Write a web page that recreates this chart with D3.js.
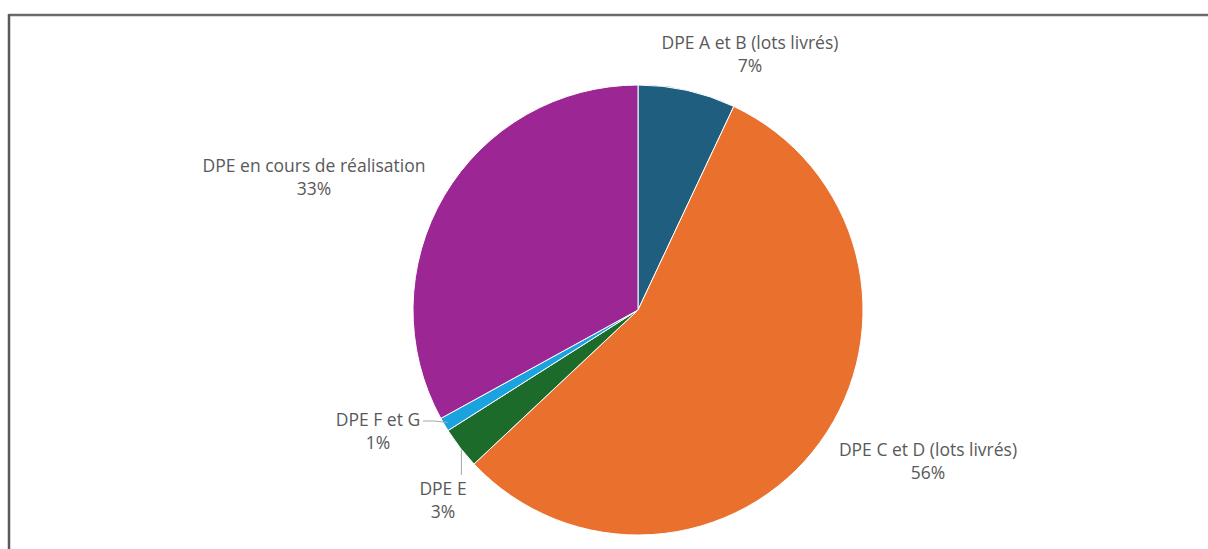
<!DOCTYPE html>
<html>
<head>
<meta charset="utf-8">
<script src="https://cdn.jsdelivr.net/npm/d3@7"></script>
<style>
  html, body { margin: 0; padding: 0; background: #fff; }
  svg { display: block; }
  .lbl { font-family: "Open Sans", Lato, sans-serif; font-size: 15px; fill: #595959; }
</style>
</head>
<body>
<svg id="chart" width="1208" height="549"></svg>
<script>
var categories = ['DPE A et B (lots livrés)', 'DPE C et D (lots livrés)', 'DPE E', 'DPE F et G', 'DPE en cours de réalisation'];
var values = [7, 56, 3, 1, 33];
var colors = ['#1f5e7f', '#e9712d', '#1d6b2b', '#1ba3e0', '#9c2794'];
// label anchor offsets from pie centre (layout only)
var labelPos = [[112, -261], [290, 146], [-195, 185], [-260, 116], [-324, -138]];

var svg = d3.select('#chart');
var cx = 638, cy = 310, radius = 225;

// frame
svg.append('line').attr('x1', 9).attr('x2', 1208).attr('y1', 15).attr('y2', 15)
  .style('stroke', '#6b6b6b').style('stroke-width', 2.5);
svg.append('line').attr('x1', 9).attr('x2', 9).attr('y1', 14).attr('y2', 549)
  .style('stroke', '#5a5a5a').style('stroke-width', 2.5);

var data = categories.map(function(c, i) { return {name: c, value: values[i], color: colors[i], pos: labelPos[i]}; });

var pie = d3.pie().sort(null).value(function(d) { return d.value; });
var arc = d3.arc().innerRadius(0).outerRadius(radius);

var g = svg.append('g').attr('transform', 'translate(' + cx + ',' + cy + ')');

g.selectAll('.slice')
  .data(pie(data))
  .enter().append('path')
  .attr('class', 'slice')
  .attr('d', arc)
  .style('fill', function(d) { return d.data.color; })
  .style('stroke', '#fff')
  .style('stroke-width', 1);

// leader lines for small slices
var edgeArc = d3.arc().innerRadius(radius - 4).outerRadius(radius - 4);
var arcs = pie(data);
var fg = arcs[3], e = arcs[2];
var pF = edgeArc.centroid(fg);
g.append('polyline')
  .attr('points', [[labelPos[3][0] + 45, labelPos[3][1] - 5], [pF[0] - 13, labelPos[3][1] - 5], pF].join(' '))
  .style('fill', 'none').style('stroke', '#a6a6a6').style('stroke-width', 1);
var pE = edgeArc.centroid(e);
g.append('line')
  .attr('x1', pE[0] - 2).attr('y1', pE[1] + 4).attr('x2', pE[0] - 2).attr('y2', labelPos[2][1] - 20)
  .style('stroke', '#a6a6a6').style('stroke-width', 1);

var labels = g.selectAll('.lbl')
  .data(data)
  .enter().append('text')
  .attr('class', 'lbl')
  .attr('text-anchor', 'middle')
  .attr('x', function(d) { return d.pos[0]; })
  .attr('y', function(d) { return d.pos[1]; });
labels.append('tspan').attr('x', function(d) { return d.pos[0]; }).attr('dy', 0).text(function(d) { return d.name; });
labels.append('tspan').attr('x', function(d) { return d.pos[0]; }).attr('dy', 22.5).text(function(d) { return d.value + '%'; });

// fit font size so the first label spans about 177px like the reference
var w = labels.select('tspan').node().getComputedTextLength();
labels.style('font-size', (15 * 177 / w) + 'px');
</script>
</body>
</html>
